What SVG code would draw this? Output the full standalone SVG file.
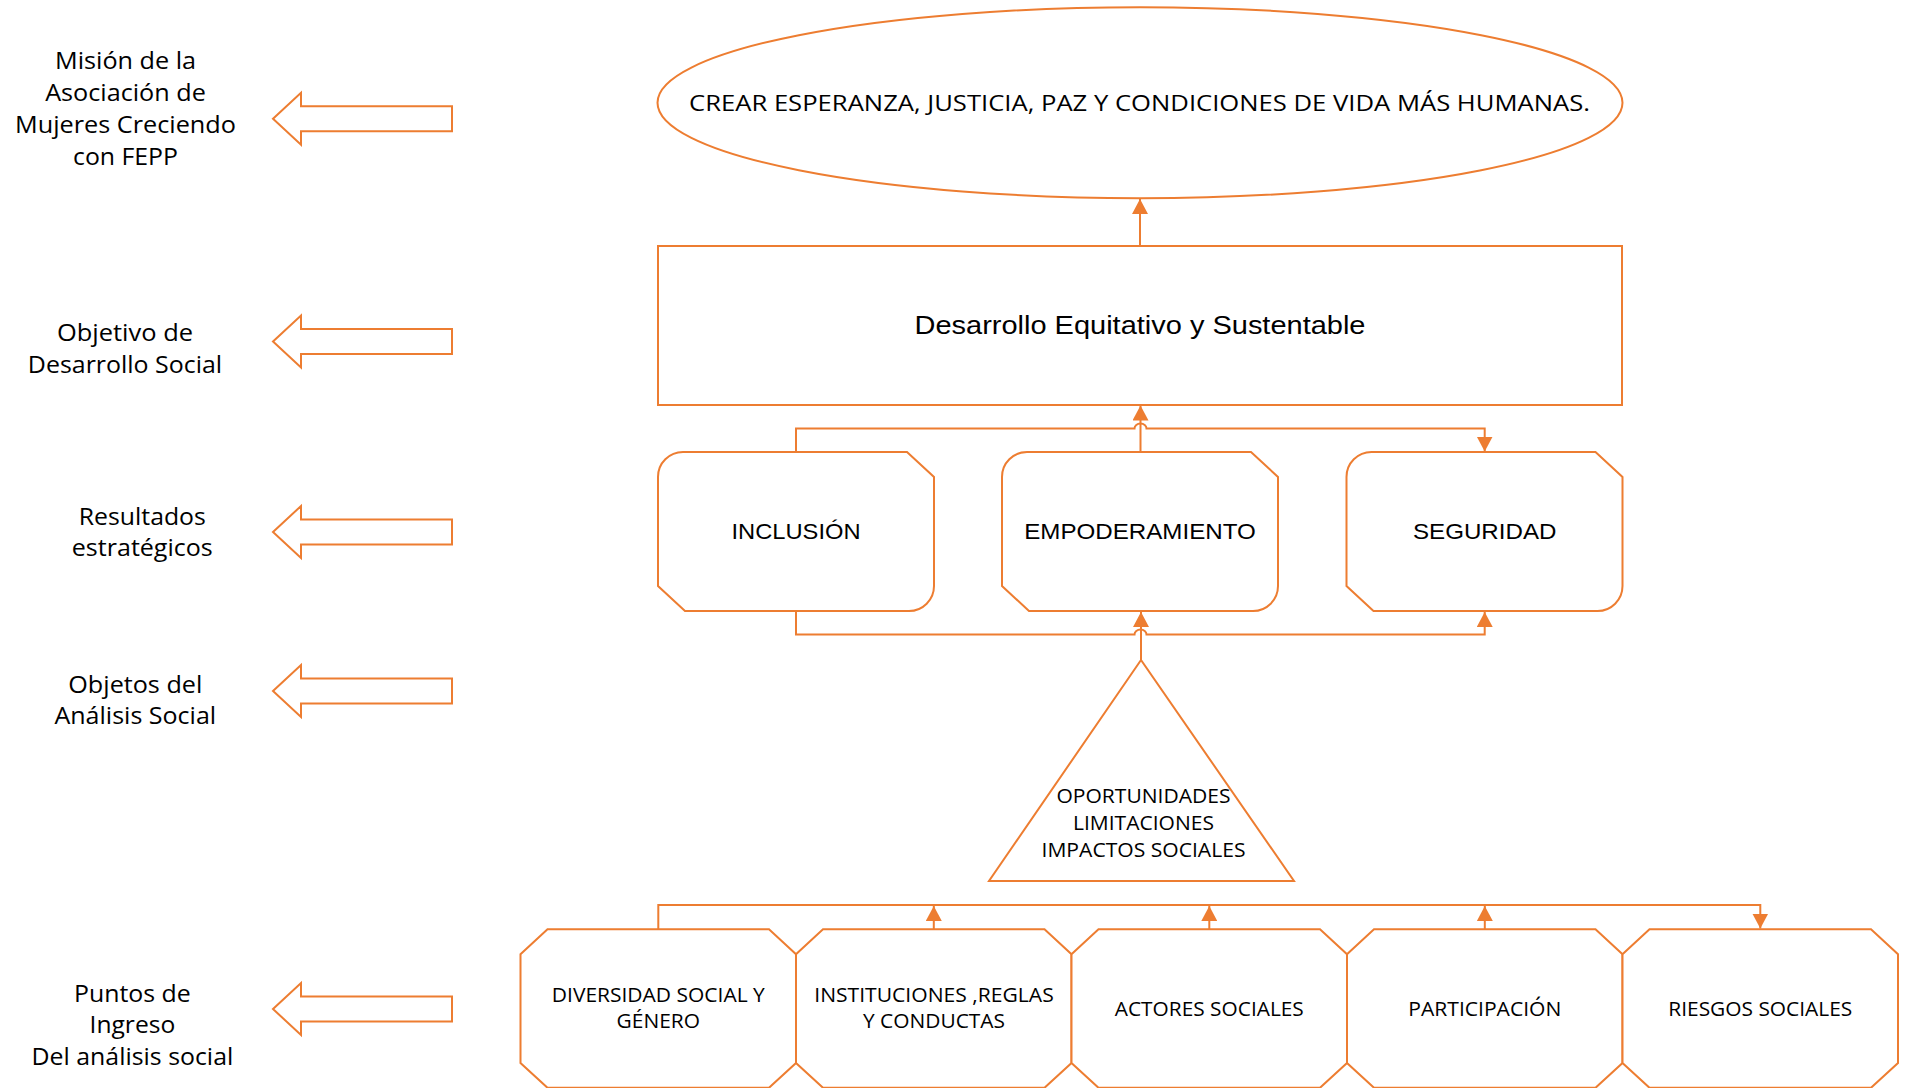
<svg xmlns="http://www.w3.org/2000/svg" xmlns:xlink="http://www.w3.org/1999/xlink" width="1906" height="1088" viewBox="0 0 1906 1088">
<style>
.shape{fill:#FFFFFF;stroke:#ED7D31;stroke-width:2;}
.conn{fill:none;stroke:#ED7D31;stroke-width:2;}
.cal{font-family:"Open Sans","Liberation Sans",sans-serif;fill:#000000;text-anchor:middle;}
.ari{font-family:"Liberation Sans",Arial,sans-serif;fill:#000000;text-anchor:middle;}
.lbl{font-size:24.5px;}
.sm{font-size:20px;}
</style>
<defs>
<marker id="ah" markerUnits="userSpaceOnUse" viewBox="0 0 15 16" markerWidth="15" markerHeight="16" refX="15" refY="8" orient="auto">
<path d="M0,0 L15,8 L0,16 Z" fill="#ED7D31"/>
</marker>
<path id="hollow" d="M273,0 L301,-26 L301,-12.5 L452,-12.5 L452,12.5 L301,12.5 L301,26 Z" fill="#FFFFFF" stroke="#ED7D31" stroke-width="2"/>
</defs>
<rect width="1906" height="1088" fill="#FFFFFF"/>

<g id="label-mision">
<use xlink:href="#hollow" href="#hollow" transform="translate(0,118.8)"/>
<text class="cal lbl" x="125.5" y="69.3" textLength="141" lengthAdjust="spacingAndGlyphs">Misión de la</text>
<text class="cal lbl" x="125.5" y="101" textLength="160.7" lengthAdjust="spacingAndGlyphs">Asociación de</text>
<text class="cal lbl" x="125.5" y="132.7" textLength="221" lengthAdjust="spacingAndGlyphs">Mujeres Creciendo</text>
<text class="cal lbl" x="125.5" y="165" textLength="105" lengthAdjust="spacingAndGlyphs">con FEPP</text>
</g>
<g id="label-objetivo">
<use xlink:href="#hollow" href="#hollow" transform="translate(0,341.5)"/>
<text class="cal lbl" x="125" y="340.7" textLength="136" lengthAdjust="spacingAndGlyphs">Objetivo de</text>
<text class="cal lbl" x="125" y="372.7" textLength="194.3" lengthAdjust="spacingAndGlyphs">Desarrollo Social</text>
</g>
<g id="label-resultados">
<use xlink:href="#hollow" href="#hollow" transform="translate(0,532)"/>
<text class="cal lbl" x="142.3" y="525.4" textLength="127" lengthAdjust="spacingAndGlyphs">Resultados</text>
<text class="cal lbl" x="142.3" y="556.4" textLength="141" lengthAdjust="spacingAndGlyphs">estratégicos</text>
</g>
<g id="label-objetos">
<use xlink:href="#hollow" href="#hollow" transform="translate(0,691)"/>
<text class="cal lbl" x="135.3" y="692.5" textLength="134" lengthAdjust="spacingAndGlyphs">Objetos del</text>
<text class="cal lbl" x="135.3" y="723.5" textLength="161.7" lengthAdjust="spacingAndGlyphs">Análisis Social</text>
</g>
<g id="label-puntos">
<use xlink:href="#hollow" href="#hollow" transform="translate(0,1009)"/>
<text class="cal lbl" x="132.4" y="1001.5" textLength="116.7" lengthAdjust="spacingAndGlyphs">Puntos de</text>
<text class="cal lbl" x="132.4" y="1032.5" textLength="85.7" lengthAdjust="spacingAndGlyphs">Ingreso</text>
<text class="cal lbl" x="132.4" y="1064.7" textLength="201.7" lengthAdjust="spacingAndGlyphs">Del análisis social</text>
</g>

<g id="connectors">
<line class="conn" x1="1140" y1="246" x2="1140" y2="199" marker-end="url(#ah)"/>
<line class="conn" x1="1140.5" y1="452" x2="1140.5" y2="405.5" marker-end="url(#ah)"/>
<path class="conn" d="M796,452 V428.5 H1134.5 A6,5 0 0 1 1146.5,428.5 H1484.7 V451.5" marker-end="url(#ah)"/>
<path class="conn" d="M796,611.5 V634.5 H1134.5 A6,5 0 0 1 1146.5,634.5 H1484.7 V612" marker-end="url(#ah)"/>
<line class="conn" x1="1141" y1="660" x2="1141" y2="612" marker-end="url(#ah)"/>
<path class="conn" d="M658.3,929 V905 H1760.3 V928.5" marker-end="url(#ah)"/>
<line class="conn" x1="933.8" y1="929" x2="933.8" y2="906" marker-end="url(#ah)"/>
<line class="conn" x1="1209.3" y1="929" x2="1209.3" y2="906" marker-end="url(#ah)"/>
<line class="conn" x1="1484.8" y1="929" x2="1484.8" y2="906" marker-end="url(#ah)"/>
</g>

<g id="mision">
<ellipse class="shape" cx="1140" cy="102.7" rx="482.5" ry="95.5"/>
<text class="cal" font-size="22.5" x="1139.5" y="111" textLength="901" lengthAdjust="spacingAndGlyphs">CREAR ESPERANZA, JUSTICIA, PAZ Y CONDICIONES DE VIDA MÁS HUMANAS.</text>
</g>
<g id="objetivo">
<rect class="shape" x="658" y="246" width="964" height="159"/>
<text class="ari" font-size="25.5" x="1140" y="333.5" textLength="451" lengthAdjust="spacingAndGlyphs">Desarrollo Equitativo y Sustentable</text>
</g>

<g id="inclusion">
<path class="shape" d="M658,477 A25,25 0 0 1 683,452 H907 L934,477 V586 A25,25 0 0 1 909,611 H685 L658,586 Z"/>
<text class="ari" font-size="22" x="796" y="539" textLength="129" lengthAdjust="spacingAndGlyphs">INCLUSIÓN</text>
</g>
<g id="empoderamiento">
<path class="shape" d="M1002,477 A25,25 0 0 1 1027,452 H1251 L1278,477 V586 A25,25 0 0 1 1253,611 H1029 L1002,586 Z"/>
<text class="ari" font-size="22" x="1140" y="539" textLength="231.5" lengthAdjust="spacingAndGlyphs">EMPODERAMIENTO</text>
</g>
<g id="seguridad">
<path class="shape" d="M1346.5,477 A25,25 0 0 1 1371.5,452 H1595.5 L1622.5,477 V586 A25,25 0 0 1 1597.5,611 H1373.5 L1346.5,586 Z"/>
<text class="ari" font-size="22" x="1484.7" y="539" textLength="143.5" lengthAdjust="spacingAndGlyphs">SEGURIDAD</text>
</g>

<g id="objetos">
<polygon class="shape" points="1141,660 989,881 1294,881"/>
<text class="cal sm" x="1143.5" y="803.3" textLength="174" lengthAdjust="spacingAndGlyphs">OPORTUNIDADES</text>
<text class="cal sm" x="1143.5" y="830" textLength="141" lengthAdjust="spacingAndGlyphs">LIMITACIONES</text>
<text class="cal sm" x="1143.5" y="857" textLength="204" lengthAdjust="spacingAndGlyphs">IMPACTOS SOCIALES</text>
</g>

<g id="diversidad">
<path class="shape" d="M547.5,929.3 H769 L796,954.3 V1063 L769,1087.8 H547.5 L520.5,1063 V954.3 Z"/>
<text class="cal sm" x="658.3" y="1001.7" textLength="213" lengthAdjust="spacingAndGlyphs">DIVERSIDAD SOCIAL Y</text>
<text class="cal sm" x="658.3" y="1028.3" textLength="83.4" lengthAdjust="spacingAndGlyphs">GÉNERO</text>
</g>
<g id="instituciones">
<path class="shape" d="M823,929.3 H1044.5 L1071.5,954.3 V1063 L1044.5,1087.8 H823 L796,1063 V954.3 Z"/>
<text class="cal sm" x="934" y="1001.7" textLength="239.5" lengthAdjust="spacingAndGlyphs">INSTITUCIONES ,REGLAS</text>
<text class="cal sm" x="934" y="1028.3" textLength="142" lengthAdjust="spacingAndGlyphs">Y CONDUCTAS</text>
</g>
<g id="actores">
<path class="shape" d="M1098.5,929.3 H1320 L1347,954.3 V1063 L1320,1087.8 H1098.5 L1071.5,1063 V954.3 Z"/>
<text class="cal sm" x="1209.3" y="1016" textLength="189" lengthAdjust="spacingAndGlyphs">ACTORES SOCIALES</text>
</g>
<g id="participacion">
<path class="shape" d="M1374,929.3 H1595.5 L1622.5,954.3 V1063 L1595.5,1087.8 H1374 L1347,1063 V954.3 Z"/>
<text class="cal sm" x="1484.8" y="1016" textLength="153" lengthAdjust="spacingAndGlyphs">PARTICIPACIÓN</text>
</g>
<g id="riesgos">
<path class="shape" d="M1649.5,929.3 H1871 L1898,954.3 V1063 L1871,1087.8 H1649.5 L1622.5,1063 V954.3 Z"/>
<text class="cal sm" x="1760.3" y="1016" textLength="184" lengthAdjust="spacingAndGlyphs">RIESGOS SOCIALES</text>
</g>
</svg>
